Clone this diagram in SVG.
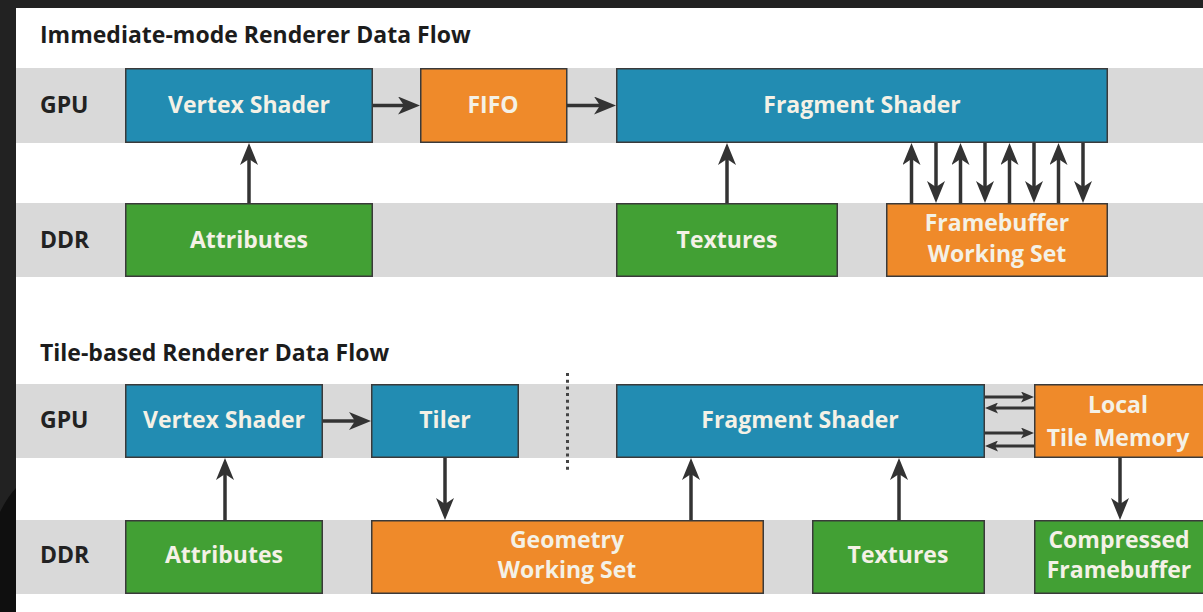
<svg xmlns="http://www.w3.org/2000/svg" width="1203" height="612" viewBox="0 0 1203 612">
<defs>
<style>
.band{fill:#d9d9d9}
.blue{fill:#228cb2;stroke:#3a3a3a;stroke-width:1.5}
.orange{fill:#ef8a2a;stroke:#3a3a3a;stroke-width:1.5}
.green{fill:#42a034;stroke:#3a3a3a;stroke-width:1.5}
.lbl{font-family:"Open Sans","Liberation Sans",sans-serif;font-weight:700;font-size:23px;fill:#f4f1e6;text-anchor:middle}
.row{font-family:"Open Sans","Liberation Sans",sans-serif;font-weight:700;font-size:23px;fill:#222}
.title{font-family:"Open Sans","Liberation Sans",sans-serif;font-weight:700;font-size:23px;fill:#1c1c1c}
.arr{stroke:#333;stroke-width:3.5;fill:none;marker-end:url(#head)}
.sarr{stroke:#333;stroke-width:3;fill:none;marker-end:url(#shead)}
</style>
<marker id="head" markerUnits="userSpaceOnUse" markerWidth="22" markerHeight="18" refX="6" refY="9" orient="auto" viewBox="0 0 22 18">
<path d="M0,0 L22,9 L0,18 L6,9 z" fill="#333"/>
</marker>
<marker id="shead" markerUnits="userSpaceOnUse" markerWidth="13" markerHeight="11" refX="3" refY="5.5" orient="auto" viewBox="0 0 13 11">
<path d="M0,0 L13,5.5 L0,11 L3,5.5 z" fill="#333"/>
</marker>
</defs>
<rect x="0" y="0" width="1203" height="612" fill="#ffffff"/>
<rect x="0" y="0" width="1203" height="8" fill="#222"/>
<rect x="0" y="0" width="16" height="612" fill="#222"/>
<path d="M0,512 Q8,496 16,488 L16,612 L0,612 z" fill="#0f0f0f"/>

<g id="bands">
<rect class="band" x="16" y="68" width="1187" height="75"/>
<rect class="band" x="16" y="203" width="1187" height="74"/>
<rect class="band" x="16" y="384" width="1187" height="74"/>
<rect class="band" x="16" y="520" width="1187" height="74"/>
</g>

<text class="title" x="40" y="43">Immediate-mode Renderer Data Flow</text>
<text class="title" x="40" y="361">Tile-based Renderer Data Flow</text>
<text class="row" x="40" y="113">GPU</text>
<text class="row" x="40" y="248">DDR</text>
<text class="row" x="40" y="428">GPU</text>
<text class="row" x="40" y="563">DDR</text>

<g id="imr-vertex"><rect class="blue" x="125.75" y="68.75" width="246.5" height="73.5"/><text class="lbl" x="249" y="113">Vertex Shader</text></g>
<g id="imr-fifo"><rect class="orange" x="420.75" y="68.75" width="146" height="73.5"/><text class="lbl" x="493" y="113">FIFO</text></g>
<g id="imr-fragment"><rect class="blue" x="616.75" y="68.75" width="490.5" height="73.5"/><text class="lbl" x="862" y="113">Fragment Shader</text></g>
<g id="imr-attributes"><rect class="green" x="125.75" y="203.75" width="246.5" height="72.5"/><text class="lbl" x="249" y="248">Attributes</text></g>
<g id="imr-textures"><rect class="green" x="616.75" y="203.75" width="220.5" height="72.5"/><text class="lbl" x="727" y="248">Textures</text></g>
<g id="imr-framebuffer"><rect class="orange" x="886.75" y="203.75" width="220.5" height="72.5"/><text class="lbl" x="997" y="231">Framebuffer</text><text class="lbl" x="997" y="262">Working Set</text></g>

<g id="tbr-vertex"><rect class="blue" x="125.75" y="384.75" width="196.5" height="72.5"/><text class="lbl" x="224" y="428">Vertex Shader</text></g>
<g id="tbr-tiler"><rect class="blue" x="371.75" y="384.75" width="146.5" height="72.5"/><text class="lbl" x="445" y="428">Tiler</text></g>
<g id="tbr-fragment"><rect class="blue" x="616.75" y="384.75" width="367.5" height="72.5"/><text class="lbl" x="800" y="428">Fragment Shader</text></g>
<g id="tbr-localtile"><rect class="orange" x="1034.75" y="384.75" width="180" height="72.5"/><text class="lbl" x="1118" y="413">Local</text><text class="lbl" x="1118" y="446">Tile Memory</text></g>
<g id="tbr-attributes"><rect class="green" x="125.75" y="520.75" width="196.5" height="72.5"/><text class="lbl" x="224" y="563">Attributes</text></g>
<g id="tbr-geometry"><rect class="orange" x="371.75" y="520.75" width="391.5" height="72.5"/><text class="lbl" x="567" y="548">Geometry</text><text class="lbl" x="567" y="578">Working Set</text></g>
<g id="tbr-textures"><rect class="green" x="812.75" y="520.75" width="171.5" height="72.5"/><text class="lbl" x="898" y="563">Textures</text></g>
<g id="tbr-compressed"><rect class="green" x="1034.75" y="520.75" width="180" height="72.5"/><text class="lbl" x="1119" y="548">Compressed</text><text class="lbl" x="1119" y="578">Framebuffer</text></g>

<g id="connectors">
<line class="arr" x1="373" y1="105.5" x2="404" y2="105.5"/>
<line class="arr" x1="567" y1="105.5" x2="600" y2="105.5"/>
<line class="arr" x1="249" y1="203" x2="249" y2="159"/>
<line class="arr" x1="727" y1="203" x2="727" y2="159"/>
<line class="arr" x1="911.5" y1="203" x2="911.5" y2="159"/>
<line class="arr" x1="936" y1="143" x2="936" y2="187"/>
<line class="arr" x1="960.5" y1="203" x2="960.5" y2="159"/>
<line class="arr" x1="985" y1="143" x2="985" y2="187"/>
<line class="arr" x1="1009.5" y1="203" x2="1009.5" y2="159"/>
<line class="arr" x1="1034" y1="143" x2="1034" y2="187"/>
<line class="arr" x1="1058.5" y1="203" x2="1058.5" y2="159"/>
<line class="arr" x1="1083" y1="143" x2="1083" y2="187"/>

<line class="arr" x1="323" y1="421" x2="355" y2="421"/>
<line class="arr" x1="445" y1="458" x2="445" y2="504"/>
<line class="arr" x1="225" y1="520" x2="225" y2="474"/>
<line class="arr" x1="691" y1="520" x2="691" y2="474"/>
<line class="arr" x1="899" y1="520" x2="899" y2="474"/>
<line class="arr" x1="1120" y1="458" x2="1120" y2="504"/>
<line class="sarr" x1="985" y1="397" x2="1024" y2="397"/>
<line class="sarr" x1="1034" y1="408" x2="995" y2="408"/>
<line class="sarr" x1="985" y1="433" x2="1024" y2="433"/>
<line class="sarr" x1="1034" y1="446" x2="995" y2="446"/>
<line x1="567.5" y1="373" x2="567.5" y2="472" stroke="#444" stroke-width="3" stroke-dasharray="3 3.7"/>
</g>
</svg>
